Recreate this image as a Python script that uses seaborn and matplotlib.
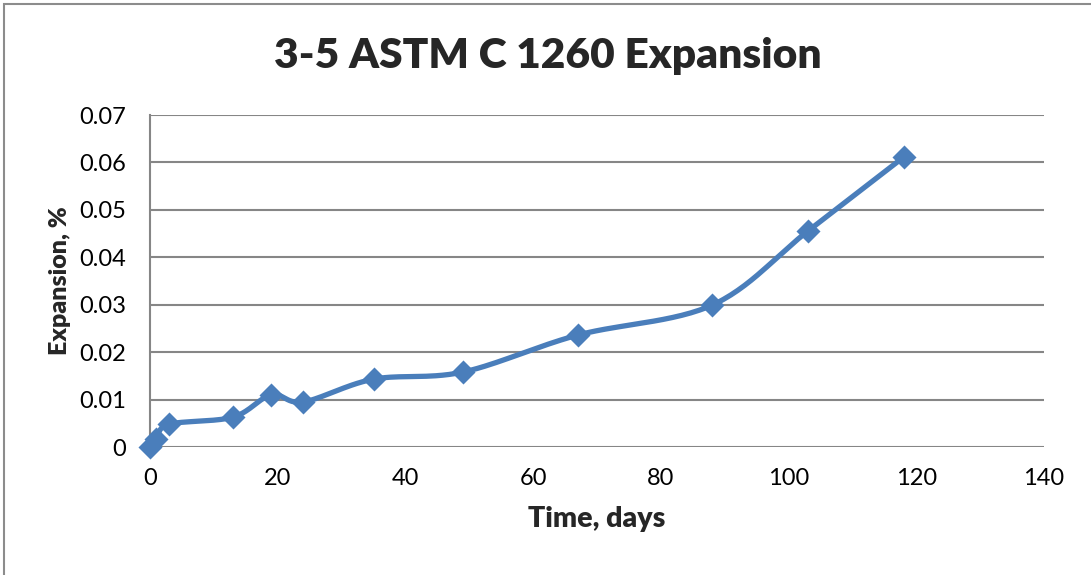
import numpy as np
import pandas as pd
import seaborn as sns
import matplotlib.pyplot as plt
from matplotlib.patches import Rectangle

# Measured expansion of the specimens over time
days = [0, 1, 3, 13, 19, 24, 35, 49, 67, 88, 103, 118]
expansion = [0.0, 0.0017, 0.0048, 0.0063, 0.0110, 0.0095,
             0.0143, 0.0158, 0.0236, 0.0299, 0.0455, 0.0611]

x_ticks = [0, 20, 40, 60, 80, 100, 120, 140]
y_ticks = [0, 0.01, 0.02, 0.03, 0.04, 0.05, 0.06, 0.07]
y_tick_labels = ["0", "0.01", "0.02", "0.03", "0.04", "0.05", "0.06", "0.07"]

BLUE = "#4A7EBB"
GRID = "#868686"

sns.set_theme(style="white")
plt.rcParams["font.family"] = ["Lato", "DejaVu Sans"]


def smooth_curve(xs, ys, steps=30):
    """Catmull-Rom style smoothing through the points (spreadsheet 'smoothed line')."""
    xs = np.asarray(xs, float)
    ys = np.asarray(ys, float)
    px = np.concatenate([[xs[0]], xs, [xs[-1]]])
    py = np.concatenate([[ys[0]], ys, [ys[-1]]])
    out_x, out_y = [], []
    t = np.linspace(0, 1, steps)
    for i in range(1, len(px) - 2):
        p0, p1, p2, p3 = (np.array([px[j], py[j]]) for j in (i - 1, i, i + 1, i + 2))
        c1 = p1 + (p2 - p0) / 6.0
        c2 = p2 - (p3 - p1) / 6.0
        b = ((1 - t) ** 3)[:, None] * p1 + (3 * (1 - t) ** 2 * t)[:, None] * c1 \
            + (3 * (1 - t) * t ** 2)[:, None] * c2 + (t ** 3)[:, None] * p2
        out_x.extend(b[:, 0])
        out_y.extend(b[:, 1])
    return np.array(out_x), np.array(out_y)


fig = plt.figure(figsize=(10.91, 5.75), dpi=100)
fig.patches.append(Rectangle((3.5 / 1091, -0.1), 1.2, 1.1 - 3.5 / 575,
                             transform=fig.transFigure, fill=False,
                             edgecolor="#8C8C8C", linewidth=1.5))

ax = fig.add_axes([150 / 1091, 1 - 447 / 575, (1044 - 150) / 1091, (447 - 115) / 575])

df = pd.DataFrame({"Time, days": days, "Expansion, %": expansion})
sx, sy = smooth_curve(days, expansion)
ax.plot(sx, sy, color=BLUE, linewidth=3.8, solid_capstyle="round", zorder=3)
sns.scatterplot(data=df, x="Time, days", y="Expansion, %", marker="D", s=150,
                color=BLUE, edgecolor=BLUE, linewidth=0, ax=ax, zorder=4,
                clip_on=False)

ax.set_xlim(0, 140)
ax.set_ylim(0, 0.07)
ax.set_xticks(x_ticks)
ax.set_yticks(y_ticks)
ax.set_yticklabels(y_tick_labels)
ax.tick_params(axis="both", length=0, labelsize=17, colors="black")
ax.tick_params(axis="y", pad=17)
ax.tick_params(axis="x", pad=15)

ax.yaxis.grid(True, color=GRID, linewidth=1.5)
ax.xaxis.grid(False)
for side in ("top", "right", "bottom"):
    ax.spines[side].set_visible(False)
ax.spines["left"].set_color(GRID)
ax.spines["left"].set_linewidth(1.5)

ax.set_xlabel("Time, days", fontsize=20.5, fontweight="heavy", labelpad=12)
ax.set_ylabel("Expansion, %", fontsize=18, fontweight="heavy", labelpad=6)

fig.text(548 / 1091, 1 - 56 / 575, "3-5 ASTM C 1260 Expansion", ha="center",
         va="center", fontsize=30.5, fontweight="heavy")

fig.savefig("out.png", dpi=100, facecolor="white")
